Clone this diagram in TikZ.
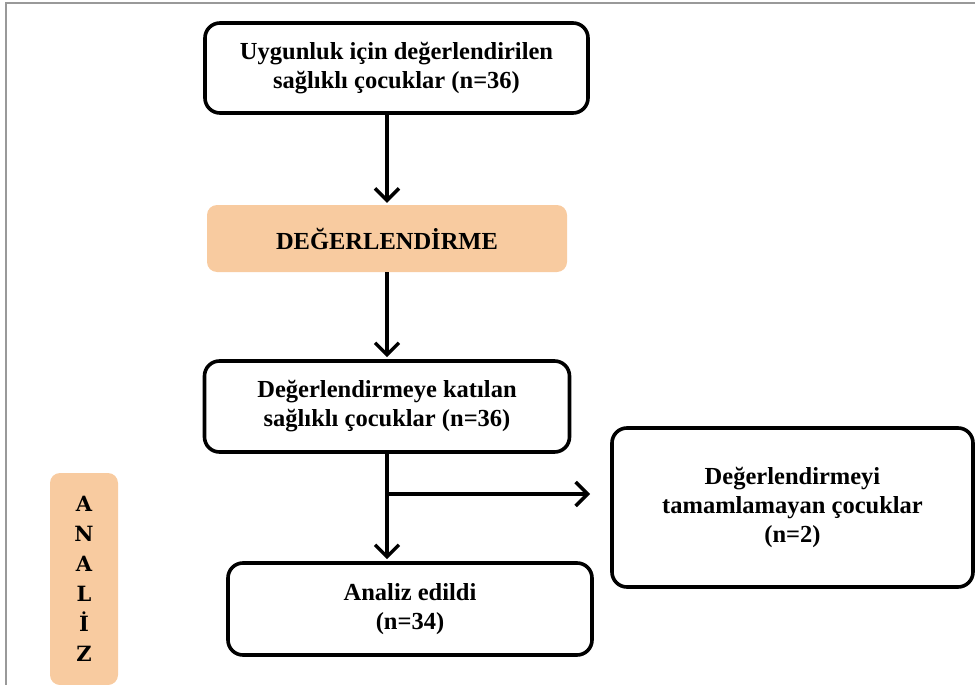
\documentclass[tikz,border=0pt]{standalone}
\usepackage{fontspec}
\setmainfont{Liberation Serif}
\newfontfamily\lettersfont{DejaVu Serif}
\usetikzlibrary{arrows.meta}
\definecolor{peach}{HTML}{F8CBA0}
\tikzset{
  x=1pt, y=-1pt,
  wbox/.style={draw=black, line width=3.6pt, rounded corners=15pt, fill=white, align=center, font=\fontsize{24.5}{29}\selectfont\bfseries, inner sep=0pt},
  obox/.style={fill=peach, rounded corners=10pt, align=center, font=\fontsize{24.5}{29}\selectfont\bfseries, inner sep=0pt},
  arr/.style={line width=3.4pt, -{Straight Barb[length=12pt, width=24pt, line width=3.4pt]}},
  frame/.style={draw=gray!80, line width=2pt}
}
\begin{document}
\begin{tikzpicture}
\useasboundingbox (0,0) rectangle (975,685);
\draw[frame] (6,685) -- (6,3) -- (975,3);
\node[wbox, minimum width=383pt, minimum height=90pt] (b1) at (396.5,68) {Uygunluk için değerlendirilen\\sağlıklı çocuklar (n=36)};
\node[obox, minimum width=360pt, minimum height=67pt] (b2) at (387,238.5) {DEĞERLENDİRME};
\node[wbox, minimum width=365pt, minimum height=91pt] (b3) at (387,406.5) {Değerlendirmeye katılan\\sağlıklı çocuklar (n=36)};
\node[wbox, minimum width=361pt, minimum height=159pt] (b4) at (792.5,507.5) {Değerlendirmeyi\\tamamlamayan çocuklar\\(n=2)};
\node[wbox, minimum width=364pt, minimum height=92pt] (b5) at (410,609) {Analiz edildi\\(n=34)};
\node[obox, minimum width=68pt, minimum height=212pt, font={\lettersfont\bfseries\fontsize{21}{30}\selectfont}] (b6) at (84,579) {A\\N\\A\\L\\İ\\Z};
\draw[arr, shorten >=2pt] (b1.south -| b2.north) -- (b2.north);
\draw[arr, shorten >=2pt] (b2.south) -- (b3.north);
\draw[arr, shorten >=2pt] (b3.south) -- (b3.south |- b5.north);
\coordinate (br) at (b3.south |- b4.west);
\coordinate (brend) at (590,494);
\draw[arr] (br |- brend) -- (brend);
\end{tikzpicture}
\end{document}
